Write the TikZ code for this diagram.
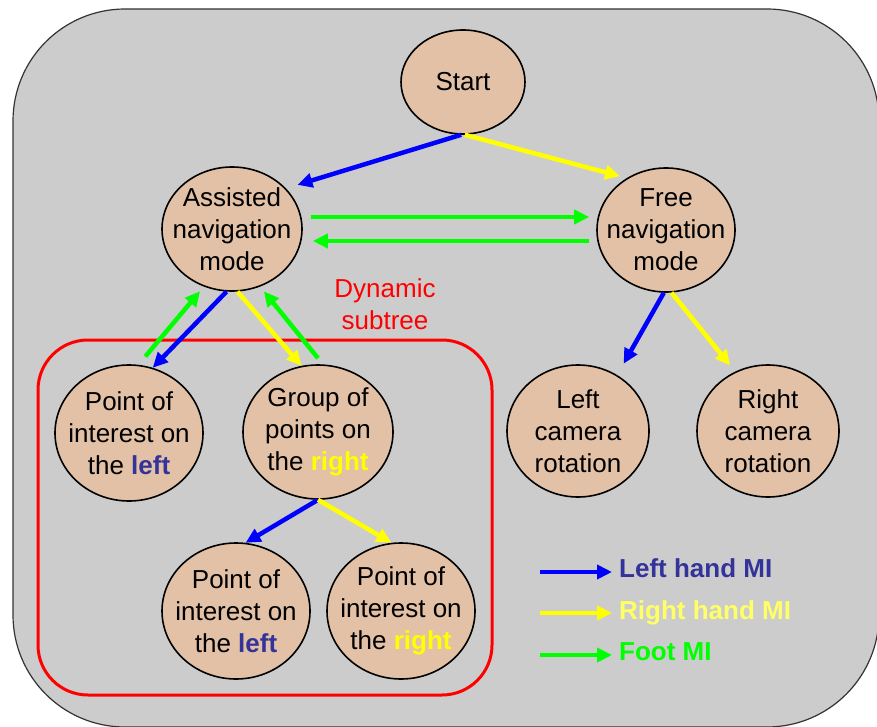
\documentclass[tikz,border=0pt]{standalone}
\usepackage{fontspec}
\setmainfont{Liberation Sans}
\usetikzlibrary{arrows.meta,shapes.geometric}
\definecolor{bg}{HTML}{CCCCCC}
\definecolor{skin}{HTML}{E2C1A6}
\definecolor{lhand}{HTML}{0000FF}
\definecolor{rhand}{HTML}{FFFF00}
\definecolor{foot}{HTML}{00FF00}
\definecolor{navy}{HTML}{333399}
\definecolor{pale}{HTML}{FFFF66}
\definecolor{dyn}{HTML}{FF0000}
\newcommand{\kleft}[1]{\textcolor{navy}{\textbf{#1}}}
\newcommand{\kright}[1]{\textcolor{rhand}{\textbf{#1}}}
\tikzset{
  bgbox/.style={draw=black!80,line width=1.2pt,fill=bg,rounded corners=112pt},
  mode/.style={ellipse,draw=black,line width=1.6pt,fill=skin,align=center,inner sep=-14pt,font=\fontsize{26}{32}\selectfont},
  dynbox/.style={draw=dyn,line width=3pt,rounded corners=50pt,inner sep=0pt},
  ar/.style={-{Triangle[length=15pt,width=14pt]},line width=4.5pt},
  lh/.style={ar,draw=lhand},
  rh/.style={ar,draw=rhand},
  ft/.style={ar,draw=foot},
  legtxt/.style={anchor=base west,inner sep=0pt,font=\fontsize{26}{32}\selectfont\bfseries},
}

\begin{document}
\begin{tikzpicture}[x=1pt,y=-1pt]
\useasboundingbox (0,0) rectangle (877,727);
\draw[bgbox] (13,9) rectangle (879,727);

\node[dynbox,minimum width=454pt,minimum height=355pt] (sub) at (265,517.5) {};
\node[font=\fontsize{26}{32}\selectfont,text=dyn,align=center] (sublbl) at (385,304) {Dynamic\\subtree};

\node[mode,minimum width=124pt,minimum height=104pt] (start) at (463,82) {Start};
\node[mode,minimum width=140pt,minimum height=124pt] (asst) at (232,229) {Assisted\\navigation\\mode};
\node[mode,minimum width=138pt,minimum height=124pt] (free) at (666,230) {Free\\navigation\\mode};
\node[mode,minimum width=148pt,minimum height=136pt] (pl1) at (129,433) {Point of\\interest on\\the \kleft{left}};
\node[mode,minimum width=150pt,minimum height=134pt] (grp) at (318,432) {Group of\\points on\\the \kright{right}};
\node[mode,minimum width=142pt,minimum height=132pt] (lcam) at (578,431) {Left\\camera\\rotation};
\node[mode,minimum width=142pt,minimum height=132pt] (rcam) at (768,431) {Right\\camera\\rotation};
\node[mode,minimum width=148pt,minimum height=136pt] (pl2) at (236,611) {Point of\\interest on\\the \kleft{left}};
\node[mode,minimum width=148pt,minimum height=136pt] (pr2) at (401,611) {Point of\\interest on\\the \kright{right}};

\draw[lh,shorten >=12pt] (start.268) -- (asst.37);
\draw[rh,shorten >=7pt] (start.272) -- (free.127);
\draw[ft] ([xshift=8pt,yshift=12pt]asst.east) -- ([xshift=-7pt,yshift=13pt]free.west);
\draw[ft] ([xshift=-7pt,yshift=-11pt]free.west) -- ([xshift=10pt,yshift=-12pt]asst.east);
\draw[lh] (asst.265) -- (pl1.70);
\draw[rh] (asst.275) -- (grp.104);
\draw[ft,shorten >=6pt] ([xshift=2pt,yshift=9pt]pl1.78) -- (asst.244);
\draw[ft,shorten >=6pt] ([xshift=0pt,yshift=6pt]grp.north) -- (asst.296);
\draw[lh,shorten >=13pt] (free.268) -- (lcam.55);
\draw[rh,shorten >=8pt] (free.275) -- (rcam.119);
\draw[lh] (grp.south) -- (pl2.82);
\draw[rh] (grp.south) -- (pr2.98);

\coordinate (k1a) at (540,572); \coordinate (k1b) at (612,572);
\coordinate (k2a) at (540,613); \coordinate (k2b) at (612,613);
\coordinate (k3a) at (540,655); \coordinate (k3b) at (612,655);
\draw[lh] (k1a) -- (k1b);
\draw[rh] (k2a) -- (k2b);
\draw[ft] (k3a) -- (k3b);
\node[legtxt,text=navy] (t1) at (619,577) {Left hand MI};
\node[legtxt,text=pale] (t2) at (619,619) {Right hand MI};
\node[legtxt,text=foot] (t3) at (619,660) {Foot MI};
\end{tikzpicture}
\end{document}
